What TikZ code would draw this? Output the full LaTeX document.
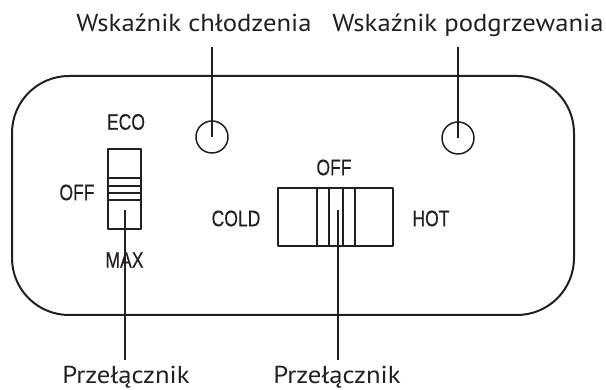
\documentclass[tikz,border=0pt]{standalone}
\usepackage{fontspec}
\setmainfont[FakeStretch=1.09]{PT Sans}
\newfontfamily\swfont[FakeStretch=0.78,FakeBold=0.3]{Liberation Sans}
\begin{document}
\begin{tikzpicture}[x=1pt,y=-1pt,line join=round]
\definecolor{ink}{HTML}{231F20}
\tikzset{
 frame/.style={draw=ink,line width=2pt,rounded corners=57pt},
 lbl/.style={font=\fontsize{24.5}{28}\selectfont,text=ink,inner sep=0pt,anchor=base},
 swlbl/.style={font=\swfont\fontsize{22.5}{26}\selectfont,text=ink,inner sep=0pt},
 lamp/.style={circle,draw=ink,line width=1.5pt,minimum size=32pt,inner sep=0pt},
 swbox/.style={draw=ink,line width=1.5pt,inner sep=0pt},
 conn/.style={draw=ink,line width=2pt},
 thinline/.style={draw=ink,line width=1.5pt}
}
\useasboundingbox (0,0) rectangle (606,390);
% housing
\draw[frame] (12,76) rectangle (574,315);
% indicator lamps
\node[lamp] (lampC) at (212,137) {};
\node[lamp] (lampH) at (458,138) {};
% top labels
\node[lbl] (lblC) at (194,32) {Wskaźnik chłodzenia};
\node[lbl] (lblH) at (468,32) {Wskaźnik podgrzewania};
\coordinate (tC) at (212,47);
\coordinate (tH) at (458,47);
\draw[conn] (tC) -- (lampC.center);
\draw[conn] (tH) -- (lampH.center);
% left switch
\node[swbox,minimum width=33pt,minimum height=80pt] (swL) at (124.5,189) {};
\foreach \yy in {178,186,193,200}{\draw[thinline] (108,\yy) -- (141,\yy);}
\node[swlbl] (eco) at (126,122) {ECO};
\node[swlbl] (offL) at (77,192.5) {OFF};
\node[swlbl] (max) at (124.5,260) {MAX};
% right switch
\node[swbox,minimum width=115pt,minimum height=58pt] (swR) at (335.5,217) {};
\foreach \xx in {317,329,343,355}{\draw[thinline] (\xx,188) -- (\xx,246);}
\node[swlbl] (offR) at (334,167.5) {OFF};
\node[swlbl] (cold) at (236,218.5) {COLD};
\node[swlbl] (hot) at (431,218.5) {HOT};
% bottom labels and leaders
\node[lbl] (pL) at (126,384) {Przełącznik};
\node[lbl] (pR) at (337,384) {Przełącznik};
\coordinate (kL) at (125,210);
\coordinate (bL) at (125,360);
\coordinate (kR) at (337.5,210);
\coordinate (bR) at (337.5,360);
\draw[conn] (kL) -- (bL);
\draw[conn] (kR) -- (bR);
\end{tikzpicture}
\end{document}
